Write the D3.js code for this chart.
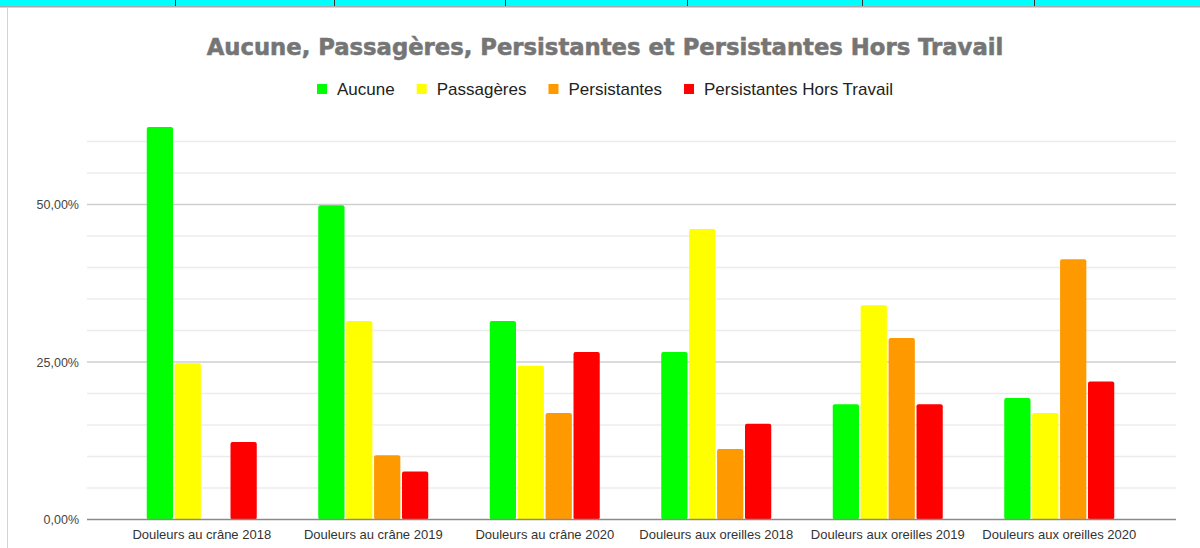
<!DOCTYPE html>
<html>
<head>
<meta charset="utf-8">
<script src="https://cdn.jsdelivr.net/npm/d3@7"></script>
<style>
  html, body { margin: 0; padding: 0; background: #fff; }
  svg { display: block; font-family: "Liberation Sans", Arial, sans-serif; }
</style>
</head>
<body>
<svg id="chart" width="1200" height="548"></svg>
<script>
// ---- Data ----
const categories = [
  "Douleurs au crâne 2018",
  "Douleurs au crâne 2019",
  "Douleurs au crâne 2020",
  "Douleurs aux oreilles 2018",
  "Douleurs aux oreilles 2019",
  "Douleurs aux oreilles 2020"
];
const seriesNames = ["Aucune", "Passagères", "Persistantes", "Persistantes Hors Travail"];
const aucune       = [62.3, 49.9, 31.5, 26.6, 18.3, 19.3];
const passageres   = [24.8, 31.5, 24.4, 46.1, 34.0, 16.9];
const persistantes = [0,    10.2, 16.9, 11.2, 28.8, 41.3];
const horsTravail  = [12.3, 7.6,  26.6, 15.2, 18.3, 21.9];
const seriesColors = ["#00ff00", "#ffff00", "#ff9900", "#ff0000"];
const yTickValues  = [0, 25, 50];
const yTickLabels  = ["0,00%", "25,00%", "50,00%"];
const titleText = "Aucune, Passagères, Persistantes et Persistantes Hors Travail";

const seriesValues = [aucune, passageres, persistantes, horsTravail];

const svg = d3.select("#chart");

// ---- Top strip (spreadsheet row) ----
svg.append("rect").attr("x", 0).attr("y", 0).attr("width", 1200).attr("height", 6).attr("fill", "#00ffff");
[175, 334, 505, 687, 862, 1034].forEach(x => {
  svg.append("line").attr("x1", x + 0.5).attr("x2", x + 0.5).attr("y1", 0).attr("y2", 6)
    .attr("stroke", "#333").attr("stroke-width", 1);
});
svg.append("line").attr("x1", 0).attr("x2", 1200).attr("y1", 6.75).attr("y2", 6.75)
  .attr("stroke", "#a9a9a9").attr("stroke-width", 1.5);
svg.append("line").attr("x1", 7.5).attr("x2", 7.5).attr("y1", 7.5).attr("y2", 548)
  .attr("stroke", "#d3d3d3").attr("stroke-width", 1);

// ---- Scales ----
const plotLeft = 87, plotRight = 1176;
const y = d3.scaleLinear().domain([0, 60]).range([519.5, 141.5]);
const x0 = d3.scaleBand().domain(categories).range([116, 1145]).padding(0);
const groupW = 110;
const x1 = d3.scaleBand().domain(seriesNames).range([-groupW / 2, groupW / 2]).paddingInner(0.06);

// ---- Gridlines ----
const grid = svg.append("g");
d3.range(5, 61, 5).forEach(v => {
  const major = (v % 25 === 0);
  grid.append("line")
    .attr("x1", plotLeft).attr("x2", plotRight)
    .attr("y1", y(v)).attr("y2", y(v))
    .attr("stroke", major ? "#cfcfcf" : "#ececec")
    .attr("stroke-width", 1.3);
});

// ---- Y axis labels ----
const yAxis = d3.axisLeft(y).tickValues(yTickValues)
  .tickFormat((d, i) => yTickLabels[i]).tickSize(0).tickPadding(0);
const yg = svg.append("g").attr("transform", `translate(79,0)`).call(yAxis);
yg.select(".domain").remove();
yg.selectAll("text").attr("font-size", 12.5).attr("fill", "#444")
  .attr("font-family", "Liberation Sans, Arial, sans-serif");

// ---- Bars ----
const groups = svg.append("g").selectAll("g")
  .data(categories).join("g")
  .attr("transform", d => `translate(${x0(d) + x0.bandwidth() / 2},0)`);

groups.selectAll("rect")
  .data((c, ci) => seriesNames.map((s, si) => ({ s, si, v: seriesValues[si][ci] })))
  .join("rect")
  .filter(d => d.v > 0)
  .attr("x", d => x1(d.s))
  .attr("width", x1.bandwidth())
  .attr("y", d => y(d.v))
  .attr("height", d => y(0) - y(d.v))
  .attr("rx", 2)
  .attr("fill", d => seriesColors[d.si]);

// ---- Baseline / X axis ----
svg.append("line").attr("x1", plotLeft).attr("x2", plotRight)
  .attr("y1", y(0)).attr("y2", y(0)).attr("stroke", "#8a8a8a").attr("stroke-width", 1.5);

const xAxis = d3.axisBottom(x0).tickSize(0).tickPadding(0);
const xg = svg.append("g").attr("transform", `translate(0,${y(0)})`).call(xAxis);
xg.select(".domain").remove();
xg.selectAll("text").attr("y", 19).attr("dy", 0).attr("font-size", 13).attr("fill", "#333")
  .attr("font-family", "Liberation Sans, Arial, sans-serif");

// ---- Title ----
const title = svg.append("text").attr("x", 605).attr("y", 55).attr("text-anchor", "middle")
  .attr("font-family", "DejaVu Sans, Liberation Sans, Arial, sans-serif")
  .attr("font-size", 20).attr("font-weight", "bold").attr("fill", "#757575")
  .attr("stroke", "#7a7a7a").attr("stroke-width", 0.6)
  .text(titleText);
const tw = title.node().getComputedTextLength();
title.attr("font-size", 20 * 797 / tw);

// ---- Legend ----
const legend = svg.append("g");
const items = legend.selectAll("g").data(seriesNames).join("g");
items.append("rect").attr("width", 10).attr("height", 10).attr("y", 84)
  .attr("fill", (d, i) => seriesColors[i]);
items.append("text").attr("x", 20).attr("y", 95).attr("font-size", 17).attr("fill", "#222").text(d => d);
let cx = 0;
const widths = [];
items.each(function () {
  const w = d3.select(this).select("text").node().getComputedTextLength();
  widths.push(20 + w);
});
const total = d3.sum(widths) + 22 * (widths.length - 1);
cx = 605 - total / 2;
items.attr("transform", (d, i) => {
  const t = `translate(${cx},0)`;
  cx += widths[i] + 22;
  return t;
});
</script>
</body>
</html>
